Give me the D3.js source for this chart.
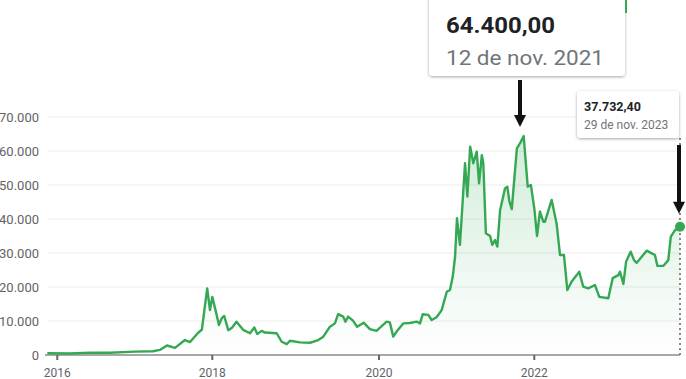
<!DOCTYPE html>
<html>
<head>
<meta charset="utf-8">
<script src="https://cdn.jsdelivr.net/npm/d3@7"></script>
<style>
  body { margin: 0; background: #fff; }
  svg { display: block; font-family: Roboto, "Noto Sans", sans-serif; }
</style>
</head>
<body>
<div id="chart"></div>
<script>
// price series (date, value)
const dates = [
  "2015-11-15","2016-03-01","2016-06-03","2016-09-05","2017-01-01","2017-03-27","2017-04-29","2017-06-01",
  "2017-07-09","2017-08-25","2017-09-18","2017-10-21","2017-11-13","2017-12-08","2017-12-21","2018-01-01",
  "2018-01-20","2018-01-30","2018-02-11","2018-02-22","2018-03-12","2018-03-28","2018-04-17","2018-05-16",
  "2018-06-15","2018-07-04","2018-07-17","2018-08-05","2018-08-20","2018-10-10","2018-11-01","2018-11-23",
  "2018-12-07","2019-01-20","2019-03-05","2019-04-10","2019-05-02","2019-05-31","2019-06-22","2019-07-06",
  "2019-07-28","2019-08-07","2019-08-19","2019-09-09","2019-09-27","2019-10-26","2019-11-22","2019-12-21",
  "2020-02-06","2020-02-21","2020-03-08","2020-03-24","2020-04-24","2020-05-26","2020-06-26","2020-07-12",
  "2020-07-25","2020-08-20","2020-09-05","2020-09-28","2020-10-22","2020-11-15","2020-11-30","2020-12-13",
  "2020-12-24","2021-01-02","2021-01-16","2021-02-09","2021-02-20","2021-03-05","2021-03-20","2021-04-05",
  "2021-04-16","2021-04-29","2021-05-06","2021-05-18","2021-06-07","2021-06-17","2021-06-30","2021-07-11",
  "2021-07-24","2021-08-16","2021-08-27","2021-09-06","2021-09-17","2021-10-11","2021-10-26","2021-11-12",
  "2021-12-01","2021-12-16","2022-01-01","2022-01-14","2022-01-28","2022-02-13","2022-02-21","2022-03-25",
  "2022-04-18","2022-05-04","2022-05-23","2022-06-08","2022-06-29","2022-07-23","2022-08-04","2022-08-23",
  "2022-09-16","2022-10-18","2022-11-08","2022-12-21","2023-01-11","2023-02-07","2023-02-15","2023-03-03",
  "2023-03-16","2023-04-07","2023-04-23","2023-05-06","2023-06-23","2023-08-01","2023-08-13","2023-09-10",
  "2023-10-04","2023-10-16","2023-11-06","2023-11-29"
];
const prices = [
  500,450,700,650,1000,1100,1500,2800,
  2100,4400,3800,6200,7500,19600,13200,17100,
  11800,8800,10800,11500,7300,8000,9800,7400,
  6400,8100,6200,7100,6600,6400,3900,3200,
  4200,3700,3600,4400,5400,8300,9300,12000,
  11300,9800,11300,10100,8300,9500,7600,7100,
  9800,9600,5400,6900,9300,9400,9800,9300,
  12000,11800,10300,11100,13200,18600,19100,23000,
  28900,40200,32400,56400,46600,61300,56400,59800,
  50500,58800,56400,35800,35000,32400,33800,31900,
  42600,49000,49500,45100,42900,60800,62300,64400,
  49500,50000,43100,35000,42200,39200,39200,45600,
  38500,29400,29400,19100,21600,23500,24500,20100,
  19600,20600,17100,16700,22600,23500,24500,20900,
  27400,30400,27900,27100,30700,29400,26200,26200,
  27900,34800,36800,37732.4
];

const yTicks = [0, 10000, 20000, 30000, 40000, 50000, 60000, 70000];
const xTickYears = ["2016-01-01", "2018-01-01", "2020-01-01", "2022-01-01"];
const xTickLabels = ["2016", "2018", "2020", "2022"];

// annotations: peak and last value
const noteDates = ["2021-11-12", "2023-11-29"];
const noteValues = [64400, 37732.4];
const noteLabels = ["12 de nov. 2021", "29 de nov. 2023"];

const width = 686, height = 379;
const parse = d3.timeParse("%Y-%m-%d");
const data = dates.map((d, i) => ({ date: parse(d), value: prices[i] }));

const ptBR = d3.formatLocale({ decimal: ",", thousands: ".", grouping: [3], currency: ["R$", ""] });
const fmtInt = ptBR.format(",.0f");
const fmtDec = ptBR.format(",.2f");

// the x axis in the picture isn't quite even, so a polylinear time scale
const xScale = d3.scaleTime()
  .domain([parse("2016-01-01"), parse("2018-01-01"), parse("2020-01-01"), parse("2022-01-01"), parse("2023-11-29")])
  .range([57.3, 212.3, 379, 534.3, 680]);

const yScale = d3.scaleLinear()
  .domain([0, 70000])
  .range([355, 117]);

const svg = d3.select("#chart").append("svg")
  .attr("width", width)
  .attr("height", height);

const defs = svg.append("defs");
const grad = defs.append("linearGradient")
  .attr("id", "fillGrad")
  .attr("x1", 0).attr("y1", 0).attr("x2", 0).attr("y2", 1);
grad.append("stop").attr("offset", "0%").attr("stop-color", "#34a853").attr("stop-opacity", 0.22);
grad.append("stop").attr("offset", "100%").attr("stop-color", "#34a853").attr("stop-opacity", 0.0);

const shadow = defs.append("filter").attr("id", "shadow")
  .attr("x", "-20%").attr("y", "-20%").attr("width", "140%").attr("height", "140%");
shadow.append("feDropShadow").attr("dx", 0).attr("dy", 1).attr("stdDeviation", 1.5)
  .attr("flood-color", "#000").attr("flood-opacity", 0.35);

const x0 = 48, x1 = 680;

// gridlines
svg.append("g").attr("class", "grid")
  .selectAll("line")
  .data(yTicks.filter(d => d > 0))
  .join("line")
  .attr("x1", x0).attr("x2", x1)
  .attr("y1", d => yScale(d)).attr("y2", d => yScale(d))
  .attr("stroke", "#ececec")
  .attr("stroke-width", 1);

// y labels
svg.append("g").attr("class", "y-labels")
  .selectAll("text")
  .data(yTicks)
  .join("text")
  .attr("x", 39)
  .attr("y", d => yScale(d) + 4.5)
  .attr("text-anchor", "end")
  .attr("font-size", 13)
  .attr("fill", "#5f6368")
  .text(d => fmtInt(d));

// area + line
const area = d3.area()
  .x(d => xScale(d.date))
  .y0(yScale(0))
  .y1(d => yScale(d.value));

const line = d3.line()
  .x(d => xScale(d.date))
  .y(d => yScale(d.value));

svg.append("path")
  .datum(data)
  .attr("d", area)
  .attr("fill", "url(#fillGrad)");

// x axis baseline
svg.append("line")
  .attr("x1", 45).attr("x2", x1)
  .attr("y1", yScale(0)).attr("y2", yScale(0))
  .attr("stroke", "#8a8a8a")
  .attr("stroke-width", 1.5);

svg.append("path")
  .datum(data)
  .attr("d", line)
  .attr("fill", "none")
  .attr("stroke", "#34a853")
  .attr("stroke-width", 2.4)
  .attr("stroke-linejoin", "round");

// x ticks
const xt = svg.append("g").attr("class", "x-ticks");
xt.selectAll("line")
  .data(xTickYears)
  .join("line")
  .attr("x1", d => xScale(parse(d))).attr("x2", d => xScale(parse(d)))
  .attr("y1", yScale(0)).attr("y2", yScale(0) + 5)
  .attr("stroke", "#666")
  .attr("stroke-width", 2);
xt.selectAll("text")
  .data(xTickYears)
  .join("text")
  .attr("x", d => xScale(parse(d)))
  .attr("y", 377)
  .attr("text-anchor", "middle")
  .attr("font-size", 12)
  .attr("fill", "#5f6368")
  .text((d, i) => xTickLabels[i]);

// dotted vertical line at last point
const lastX = xScale(parse(noteDates[1]));
svg.append("line")
  .attr("x1", lastX).attr("x2", lastX)
  .attr("y1", 138).attr("y2", yScale(0))
  .attr("stroke", "#888")
  .attr("stroke-width", 2)
  .attr("stroke-dasharray", "2,3");

// end dot
svg.append("circle")
  .attr("cx", lastX)
  .attr("cy", yScale(noteValues[1]))
  .attr("r", 5)
  .attr("fill", "#34a853");

// big tooltip (peak)
svg.append("rect")
  .attr("x", 429).attr("y", -10)
  .attr("width", 196).attr("height", 86)
  .attr("rx", 4)
  .attr("fill", "#fff")
  .attr("filter", "url(#shadow)");
svg.append("line")
  .attr("x1", 626).attr("x2", 626).attr("y1", 0).attr("y2", 13)
  .attr("stroke", "#34a853").attr("stroke-width", 2);
svg.append("text")
  .attr("x", 446).attr("y", 33)
  .attr("font-size", 22).attr("font-weight", 700)
  .attr("fill", "#202124")
  .attr("textLength", 109)
  .attr("lengthAdjust", "spacingAndGlyphs")
  .text(fmtDec(noteValues[0]));
svg.append("text")
  .attr("x", 446).attr("y", 65)
  .attr("font-size", 21)
  .attr("fill", "#70757a")
  .attr("textLength", 158)
  .attr("lengthAdjust", "spacingAndGlyphs")
  .text(noteLabels[0]);

// small tooltip (last)
svg.append("rect")
  .attr("x", 577).attr("y", 91)
  .attr("width", 102).attr("height", 47)
  .attr("rx", 4)
  .attr("fill", "#fff")
  .attr("filter", "url(#shadow)");
svg.append("text")
  .attr("x", 584).attr("y", 111)
  .attr("font-size", 12.5).attr("font-weight", 700)
  .attr("fill", "#202124")
  .text(fmtDec(noteValues[1]));
svg.append("text")
  .attr("x", 584).attr("y", 129)
  .attr("font-size", 12)
  .attr("fill", "#70757a")
  .text(noteLabels[1]);

// black arrows pointing at both values
function arrow(x, yTop, yTip) {
  const g = svg.append("g");
  g.append("line")
    .attr("x1", x).attr("x2", x)
    .attr("y1", yTop).attr("y2", yTip - 10)
    .attr("stroke", "#111").attr("stroke-width", 4);
  g.append("path")
    .attr("d", `M${x - 6},${yTip - 12} L${x + 6},${yTip - 12} L${x},${yTip} Z`)
    .attr("fill", "#111");
}
arrow(520, 80, yScale(noteValues[0]) - 9);
arrow(lastX - 1, 145, yScale(noteValues[1]) - 13);
</script>
</body>
</html>
